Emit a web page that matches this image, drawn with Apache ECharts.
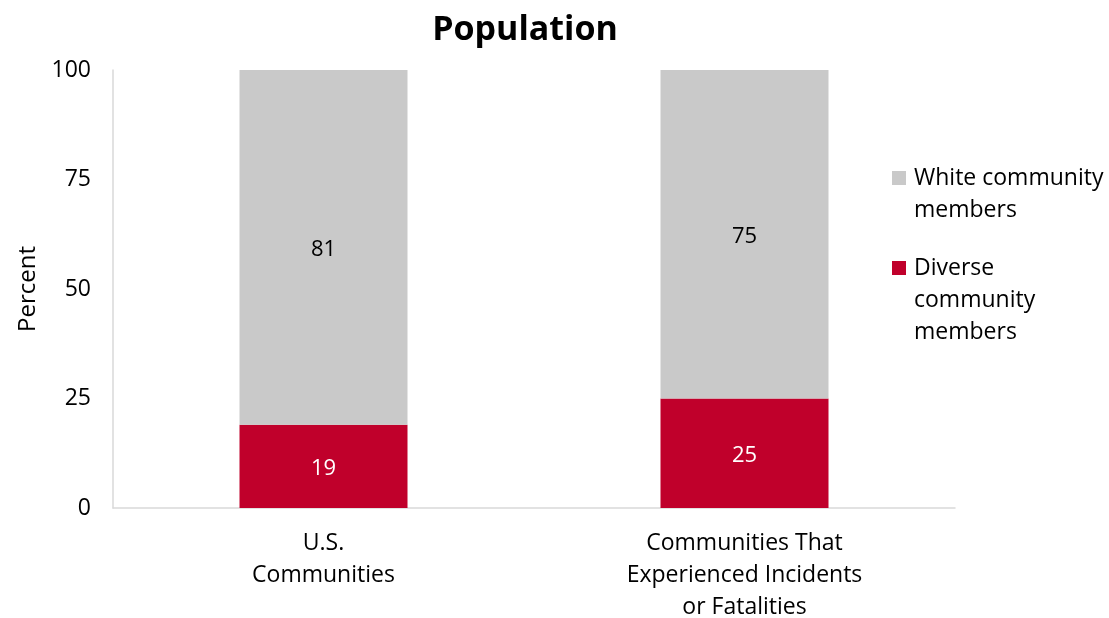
<!DOCTYPE html>
<html><head><meta charset="utf-8">
<script src="https://cdn.jsdelivr.net/npm/echarts@6/dist/echarts.min.js"></script>
<style>html,body{margin:0;padding:0;background:#fff}#c{width:1109px;height:618px}</style>
</head><body><div id="c"></div>
<script>
const categories = ['U.S.\nCommunities', 'Communities That\nExperienced Incidents\nor Fatalities'];
const diverse = [19, 25];
const white = [81, 75];
const yTicks = [0, 25, 50, 75, 100];
const seriesNames = ['White community members', 'Diverse community members'];
const legendText = {
  'White community members': '\nWhite community\nmembers',
  'Diverse community members': '\n\nDiverse\ncommunity\nmembers'
};
const FONT = 'Open Sans';
const chart = echarts.init(document.getElementById('c'));
const lbl = {fontFamily: FONT, fontSize: 23, lineHeight: 32, color: '#000'};
chart.setOption({
  animation: false,
  title: {text: 'Population', left: 520, top: 8, textAlign: 'center',
    textStyle: {fontFamily: FONT, fontWeight: 'bold', fontSize: 34, color: '#000'}},
  grid: {left: 113, right: 154, top: 70, bottom: 110, containLabel: false, outerBoundsMode: 'none'},
  legend: [
    {data: [seriesNames[0]], orient: 'vertical', left: 892, top: 130, padding: 0,
     itemWidth: 14, itemHeight: 14, icon: 'rect', itemGap: 0, itemStyle: {borderWidth: 0},
     formatter: n => legendText[n], textStyle: Object.assign({padding: [0, 0, 0, 3]}, lbl)},
    {data: [seriesNames[1]], orient: 'vertical', left: 892, top: 188, padding: 0,
     itemWidth: 14, itemHeight: 14, icon: 'rect', itemGap: 0, itemStyle: {borderWidth: 0},
     formatter: n => legendText[n], textStyle: Object.assign({padding: [0, 0, 0, 3]}, lbl)}
  ],
  xAxis: {type: 'category', data: categories,
    axisLine: {lineStyle: {color: '#d9d9d9', width: 1.5}}, axisTick: {show: false},
    axisLabel: Object.assign({margin: 19, interval: 0}, lbl)},
  yAxis: {type: 'value', min: yTicks[0], max: yTicks[yTicks.length - 1], interval: 25,
    name: 'Percent', nameLocation: 'middle', nameGap: 64, nameRotate: 90,
    nameTextStyle: {fontFamily: FONT, fontSize: 24, color: '#000'},
    axisLine: {show: true, lineStyle: {color: '#d9d9d9', width: 1.5}}, axisTick: {show: false},
    splitLine: {show: false},
    axisLabel: Object.assign({margin: 22, padding: [2, 0, 0, 0]}, lbl)},
  series: [
    {name: seriesNames[1], type: 'bar', stack: 's', data: diverse, barWidth: 168,
     itemStyle: {color: '#c0002b'},
     label: {show: true, position: 'inside', offset: [0, 2], fontFamily: FONT, fontSize: 22, color: '#fff'}},
    {name: seriesNames[0], type: 'bar', stack: 's', data: white, barWidth: 168,
     itemStyle: {color: '#c9c9c9'},
     label: {show: true, position: 'inside', offset: [0, 2], fontFamily: FONT, fontSize: 22, color: '#000'}}
  ]
});
</script></body></html>
